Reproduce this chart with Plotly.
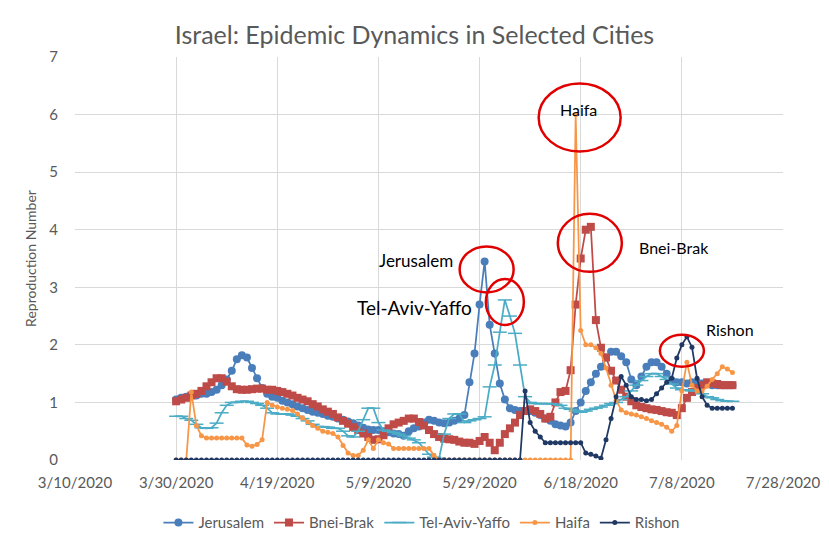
import pandas as pd
import numpy as np
import plotly.graph_objs as go

# daily values, 3/30/2020 .. 7/18/2020
dates = pd.date_range("2020-03-30", "2020-07-18", freq="D")

jerusalem = [
    1.05, 1.08, 1.10, 1.12, 1.12, 1.15, 1.15, 1.18, 1.22, 1.30,
    1.40, 1.55, 1.75, 1.82, 1.78, 1.60, 1.42, 1.25, 1.15, 1.10,
    1.08, 1.03, 1.00, 0.97, 0.93, 0.90, 0.87, 0.84, 0.82, 0.80,
    0.77, 0.75, 0.72, 0.70, 0.67, 0.64, 0.60, 0.56, 0.53, 0.52,
    0.52, 0.50, 0.48, 0.46, 0.45, 0.42, 0.50, 0.55, 0.58, 0.65,
    0.70, 0.68, 0.65, 0.64, 0.65, 0.68, 0.72, 0.78, 1.35, 1.85,
    2.70, 3.45, 2.35, 1.85, 1.33, 1.05, 0.90, 0.87, 0.85, 0.85,
    0.85, 0.82, 0.78, 0.72, 0.68, 0.62, 0.60, 0.58, 0.65, 0.85,
    1.00, 1.20, 1.35, 1.50, 1.62, 1.78, 1.88, 1.88, 1.80, 1.70,
    1.40, 1.30, 1.45, 1.62, 1.70, 1.70, 1.62, 1.50, 1.38, 1.35,
    1.35, 1.33, 1.35, 1.35, 1.33, 1.33, 1.30, 1.30, 1.30, 1.30, 1.30,
]
bnei_brak = [
    1.02, 1.05, 1.08, 1.12, 1.15, 1.20, 1.28, 1.35, 1.42, 1.42,
    1.36, 1.28, 1.23, 1.22, 1.22, 1.23, 1.24, 1.24, 1.22, 1.22,
    1.20, 1.18, 1.15, 1.12, 1.08, 1.05, 1.02, 0.97, 0.93, 0.88,
    0.84, 0.80, 0.74, 0.68, 0.63, 0.57, 0.52, 0.46, 0.40, 0.35,
    0.36, 0.43, 0.55, 0.62, 0.65, 0.68, 0.72, 0.72, 0.66, 0.60,
    0.52, 0.45, 0.40, 0.37, 0.36, 0.35, 0.32, 0.30, 0.30, 0.28,
    0.33, 0.40, 0.30, 0.17, 0.30, 0.45, 0.55, 0.65, 0.78, 0.85,
    0.88, 0.85, 0.80, 0.72, 0.75, 1.00, 1.18, 1.20, 1.56, 2.70,
    3.50, 4.00, 4.05, 2.43, 1.95, 1.78, 1.55, 1.38, 1.22, 1.10,
    1.02, 0.95, 0.92, 0.90, 0.88, 0.87, 0.85, 0.83, 0.82, 0.78,
    0.90, 1.08, 1.18, 1.25, 1.30, 1.35, 1.33, 1.32, 1.30, 1.30, 1.30,
]
tel_aviv = [
    0.76, 0.76, 0.72, 0.69, 0.62, 0.56, 0.55, 0.56, 0.64, 0.82,
    0.95, 1.00, 1.00, 1.02, 1.02, 1.00, 0.98, 0.95, 0.90, 0.82,
    0.80, 0.80, 0.80, 0.78, 0.76, 0.72, 0.68, 0.62, 0.58, 0.58,
    0.57, 0.55, 0.55, 0.50, 0.42, 0.40, 0.50, 0.70, 0.90, 0.90,
    0.65, 0.52, 0.50, 0.48, 0.45, 0.42, 0.38, 0.35, 0.30, 0.20,
    0.10, 0.05, 0.03, 0.45, 0.72, 0.80, 0.80, 0.65, 0.68, 0.70,
    0.72, 0.75, 1.27, 1.65, 2.22, 2.78, 2.50, 2.20, 1.65, 1.10,
    1.00, 0.98, 0.98, 0.98, 0.98, 0.97, 0.95, 0.90, 0.88, 0.85,
    0.83, 0.85, 0.88, 0.90, 0.92, 0.95, 0.98, 1.00, 1.05, 1.10,
    1.20, 1.30, 1.38, 1.45, 1.50, 1.50, 1.45, 1.40, 1.32, 1.25,
    1.22, 1.22, 1.20, 1.20, 1.15, 1.10, 1.08, 1.05, 1.03, 1.02, 1.02,
]
haifa = [
    0.00, 0.00, 0.00, 1.18, 0.60, 0.42, 0.38, 0.38, 0.38, 0.38,
    0.38, 0.38, 0.38, 0.38, 0.26, 0.24, 0.27, 0.35, 1.00, 0.95,
    0.92, 0.90, 0.88, 0.86, 0.80, 0.73, 0.66, 0.60, 0.55, 0.50,
    0.48, 0.46, 0.40, 0.25, 0.12, 0.08, 0.08, 0.17, 0.35, 0.20,
    0.35, 0.30, 0.28, 0.20, 0.20, 0.20, 0.20, 0.20, 0.20, 0.20,
    0.20, 0.08, 0.00, 0.00, 0.00, 0.00, 0.00, 0.00, 0.00, 0.00,
    0.00, 0.00, 0.00, 0.00, 0.00, 0.00, 0.00, 0.00, 0.00, 0.00,
    0.00, 0.00, 0.00, 0.00, 0.00, 0.00, 0.00, 0.00, 0.00, 6.00,
    2.25, 2.00, 2.00, 1.95, 1.85, 1.60, 1.30, 1.04, 0.87, 0.82,
    0.80, 0.78, 0.75, 0.72, 0.68, 0.65, 0.62, 0.57, 0.50, 0.60,
    1.20, 1.70, 1.30, 1.20, 1.20, 1.28, 1.40, 1.50, 1.62, 1.58, 1.52,
]
rishon = [
    0.00, 0.00, 0.00, 0.00, 0.00, 0.00, 0.00, 0.00, 0.00, 0.00,
    0.00, 0.00, 0.00, 0.00, 0.00, 0.00, 0.00, 0.00, 0.00, 0.00,
    0.00, 0.00, 0.00, 0.00, 0.00, 0.00, 0.00, 0.00, 0.00, 0.00,
    0.00, 0.00, 0.00, 0.00, 0.00, 0.00, 0.00, 0.00, 0.00, 0.00,
    0.00, 0.00, 0.00, 0.00, 0.00, 0.00, 0.00, 0.00, 0.00, 0.00,
    0.00, 0.00, 0.00, 0.00, 0.00, 0.00, 0.00, 0.00, 0.00, 0.00,
    0.00, 0.00, 0.00, 0.00, 0.00, 0.00, 0.00, 0.00, 0.00, 1.20,
    0.65, 0.50, 0.40, 0.30, 0.30, 0.30, 0.30, 0.30, 0.30, 0.30,
    0.30, 0.12, 0.10, 0.07, 0.03, 0.35, 0.72, 1.10, 1.45, 1.30,
    1.10, 1.05, 1.05, 1.03, 1.05, 1.15, 1.25, 1.35, 1.42, 1.77,
    2.00, 2.14, 1.96, 1.42, 1.10, 0.95, 0.90, 0.90, 0.90, 0.90, 0.90,
]

series = [
    ("Jerusalem", jerusalem, "#4a7ebb", "circle", 8),
    ("Bnei-Brak", bnei_brak, "#be4b48", "square", 8),
    ("Tel-Aviv-Yaffo", tel_aviv, "#4bacc6", "line-ew", 10),
    ("Haifa", haifa, "#f79646", "circle", 5),
    ("Rishon", rishon, "#1f3864", "circle", 5),
]

FONT = "Lato, 'Open Sans', sans-serif"


def main():
    fig = go.Figure()
    for name, vals, color, sym, size in series:
        fig.add_trace(go.Scatter(
            x=dates, y=vals, name=name, mode="lines+markers",
            line=dict(color=color, width=1.75),
            marker=dict(symbol=sym, size=size, color=color,
                        line=dict(color=color, width=1.5 if sym == "line-ew" else 0)),
        ))

    # red circles + labels around the peaks:
    # (series idx, label, font size, label anchor, label shift, circle offset, radii)
    callouts = [
        (0, "Jerusalem", 17, "right", (-30, 1), (2, -8), (27, 23)),
        (2, "Tel-Aviv-Yaffo", 19, "right", (-31, -8), (0, -2), (19, 23)),
        (3, "Haifa", 16, "center", (3, 5), (4, -3), (41, 34)),
        (1, "Bnei-Brak", 16, "left", (46, -21), (-1, -16), (32, 29)),
        (4, "Rishon", 16, "left", (17, 7), (-5, -14), (22, 16)),
    ]
    for idx, text, fsize, anchor, (sx, sy), (cx, cy), (rx, ry) in callouts:
        vals = series[idx][1]
        i = int(np.argmax(vals))
        px, py = dates[i], vals[i]
        fig.add_shape(type="circle", xref="x", yref="y",
                      xsizemode="pixel", ysizemode="pixel",
                      xanchor=px, yanchor=py,
                      x0=cx - rx, x1=cx + rx, y0=cy - ry, y1=cy + ry,
                      line=dict(color="#e00000", width=2.5))
        fig.add_annotation(x=px, y=py, text=text, showarrow=False,
                           xanchor=anchor, yanchor="middle",
                           xshift=sx, yshift=sy,
                           font=dict(family=FONT, size=fsize, color="black"))

    fig.update_layout(
        width=829, height=540,
        margin=dict(l=75, r=46, t=57, b=80, autoexpand=False),
        paper_bgcolor="white", plot_bgcolor="white",
        title=dict(text="Israel: Epidemic Dynamics in Selected Cities",
                   x=0.5, xanchor="center", y=1 - 35 / 540, yanchor="middle",
                   yref="container", automargin=False,
                   font=dict(family=FONT, size=25, color="#595959")),
        font=dict(family=FONT, size=13, color="#595959"),
        showlegend=True,
        legend=dict(orientation="h", x=0.49, xanchor="center",
                    y=-0.156, yanchor="middle", itemwidth=30,
                    font=dict(family=FONT, size=15, color="#595959")),
    )
    fig.update_xaxes(
        type="date", range=["2020-03-10", "2020-07-28"],
        tick0="2020-03-10", dtick=20 * 86400000, tickformat="%-m/%-d/%Y",
        showgrid=True, gridcolor="#d9d9d9", gridwidth=1,
        zeroline=False, showline=False, ticks="", automargin=False,
        ticklabelstandoff=12,
        tickfont=dict(size=15),
    )
    fig.update_yaxes(
        range=[0, 7], dtick=1,
        showgrid=True, gridcolor="#d9d9d9", gridwidth=1,
        zeroline=False, showline=False, ticks="", automargin=False,
        ticklabelstandoff=16,
        title=dict(text="Reproduction Number", standoff=9,
                   font=dict(size=14, color="#595959")),
        tickfont=dict(size=15),
    )

    # drop the browser's default 8px body margin so the figure sits at 0,0
    fig.write_html("out.html", config={"displayModeBar": False},
                   post_script="document.body.style.margin='0';")


if __name__ == "__main__":
    main()
